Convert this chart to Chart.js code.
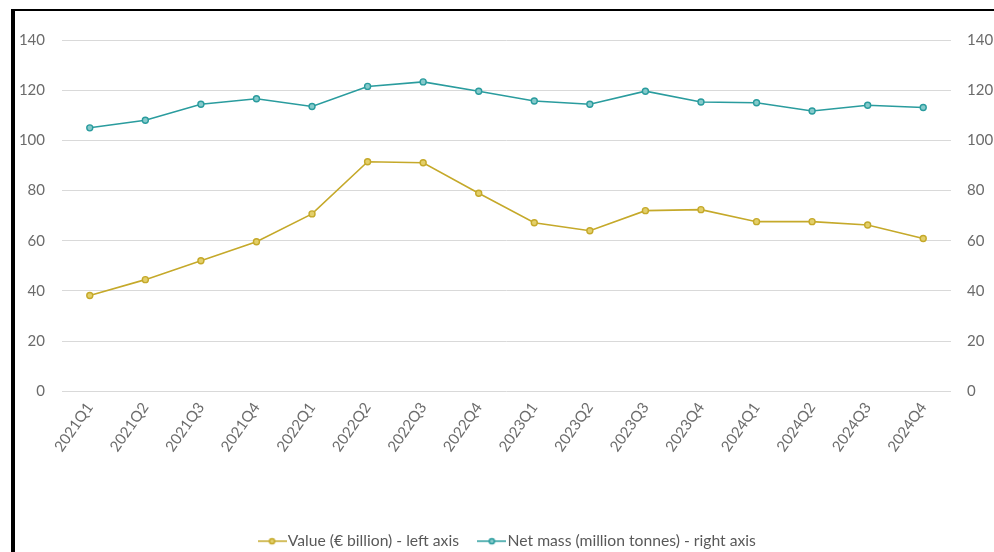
<!DOCTYPE html>
<html>
<head>
<meta charset="utf-8">
<script src="https://cdn.jsdelivr.net/npm/chart.js@4"></script>
<style>
  html, body { margin: 0; padding: 0; background: #fff; }
  #wrap { position: relative; width: 994px; height: 552px; overflow: hidden; }
  #frame { position: absolute; left: 11px; top: 9px; width: 1000px; height: 600px;
           border-left: 4px solid #000; border-top: 2px solid #000; pointer-events: none; }
  canvas { position: absolute; left: 0; top: 0; }
</style>
</head>
<body>
<div id="wrap">
  <canvas id="c" width="994" height="552"></canvas>
  <div id="frame"></div>
</div>
<script>
const categories = ["2021Q1","2021Q2","2021Q3","2021Q4","2022Q1","2022Q2","2022Q3","2022Q4",
                    "2023Q1","2023Q2","2023Q3","2023Q4","2024Q1","2024Q2","2024Q3","2024Q4"];
const valueBillion = [38.2, 44.5, 52.0, 59.6, 70.7, 91.5, 91.1, 78.9, 67.2, 64.0, 72.0, 72.4, 67.6, 67.6, 66.3, 60.9];
const netMassMt = [105.0, 108.0, 114.4, 116.6, 113.5, 121.5, 123.3, 119.6, 115.7, 114.4, 119.6, 115.3, 115.0, 111.7, 114.0, 113.1];
const seriesNames = ["Value (€ billion) - left axis", "Net mass (million tonnes) - right axis"];
const yTicks = [0, 20, 40, 60, 80, 100, 120, 140];

const gold = "#C5A92A", goldFill = "#E3CF6A";
const teal = "#2A9C9E", tealFill = "#86CACB";

function legendMarker(stroke, fill) {
  const c = document.createElement("canvas");
  c.width = 29; c.height = 10;
  const g = c.getContext("2d");
  g.strokeStyle = stroke; g.lineWidth = 1.5;
  g.beginPath(); g.moveTo(0, 5); g.lineTo(29, 5); g.stroke();
  g.fillStyle = fill; g.beginPath(); g.arc(14.5, 5, 2.6, 0, Math.PI * 2); g.fill(); g.stroke();
  return c;
}
const markers = [legendMarker(gold, goldFill), legendMarker(teal, tealFill)];

const fam = "Lato, 'Open Sans', sans-serif";
const tickColor = "#6b6b6b";

const shiftLegend = {
  id: "shiftLegend",
  afterLayout(chart) {
    if (chart.legend) { chart.legend.left += 13; chart.legend.right += 13; }
  }
};

new Chart(document.getElementById("c"), {
  type: "line",
  data: {
    labels: categories,
    datasets: [
      { label: seriesNames[0], data: valueBillion, yAxisID: "y",
        borderColor: gold, backgroundColor: goldFill, pointBackgroundColor: goldFill,
        pointBorderColor: gold, borderWidth: 1.6, pointRadius: 3, pointBorderWidth: 1.4,
        pointStyle: "circle", tension: 0 },
      { label: seriesNames[1], data: netMassMt, yAxisID: "y1",
        borderColor: teal, backgroundColor: tealFill, pointBackgroundColor: tealFill,
        pointBorderColor: teal, borderWidth: 1.6, pointRadius: 3, pointBorderWidth: 1.4,
        pointStyle: "circle", tension: 0 }
    ]
  },
  plugins: [shiftLegend],
  options: {
    responsive: false,
    animation: false,
    layout: { padding: { top: 40, left: 0, right: 0, bottom: -7 } },
    plugins: {
      legend: {
        position: "bottom",
        labels: {
          usePointStyle: true, color: "#595959", font: { family: fam, size: 15.7 },
          padding: 25, boxWidth: 29, boxHeight: 10,
          generateLabels(chart) {
            return chart.data.datasets.map((ds, i) => ({
              text: ds.label, pointStyle: markers[i], fontColor: "#595959",
              strokeStyle: ds.borderColor, fillStyle: ds.backgroundColor,
              lineWidth: 0, hidden: false, datasetIndex: i
            }));
          }
        }
      },
      tooltip: { enabled: false }
    },
    scales: {
      x: {
        offset: true,
        grid: { display: false, drawTicks: false },
        border: { display: false },
        ticks: { color: tickColor, font: { family: fam, size: 15 }, maxRotation: 55, minRotation: 55, padding: 8, autoSkip: false },
        afterFit(s) { s.height = 117; }
      },
      y: {
        position: "left", min: 0, max: 140,
        afterBuildTicks(s) { s.ticks = yTicks.map(v => ({ value: v })); },
        grid: { color: "#d9d9d9", lineWidth: 1, drawTicks: false },
        border: { display: false },
        ticks: { color: tickColor, font: { family: fam, size: 15 }, padding: 17 },
        afterFit(s) { s.width = 62; }
      },
      y1: {
        position: "right", min: 0, max: 140,
        afterBuildTicks(s) { s.ticks = yTicks.map(v => ({ value: v })); },
        grid: { display: false, drawTicks: false },
        border: { display: false },
        ticks: { color: tickColor, font: { family: fam, size: 15 }, padding: 16 },
        afterFit(s) { s.width = 43; }
      }
    }
  }
});
</script>
</body>
</html>
